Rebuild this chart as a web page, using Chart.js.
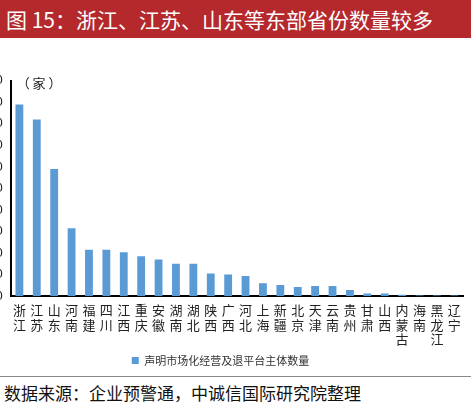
<!DOCTYPE html>
<html><head><meta charset="utf-8">
<script src="https://cdn.jsdelivr.net/npm/chart.js@4/dist/chart.umd.min.js"></script>
<style>
body{margin:0;width:471px;height:415px;overflow:hidden;background:#fff;font-family:"Noto Sans CJK SC",serif;position:relative}
#title{position:absolute;left:0;top:0;width:471px;height:38px;background:#b5282c;color:#fff;font-size:21px;line-height:38px;padding-left:6px;box-sizing:border-box;font-family:"Noto Sans CJK SC"}
#wrap{position:absolute;left:-22px;top:70px;width:493px;height:306px}
#src{position:absolute;left:0;top:376px;width:471px;border-top:1px solid #888;font-size:17px;padding-top:3px;padding-left:4px;color:#111}
</style></head><body>
<div id="title">图 15：浙江、江苏、山东等东部省份数量较多</div>
<div id="wrap"><canvas id="c"></canvas></div>
<div id="src">数据来源：企业预警通，中诚信国际研究院整理</div>
<script>
var provinces = ["浙江","江苏","山东","河南","福建","四川","江西","重庆","安徽","湖南","湖北","陕西","广西","河北","上海","新疆","北京","天津","云南","贵州","甘肃","山西","内蒙古","海南","黑龙江","辽宁"];
var counts = [89,82,59,31.5,21.5,21.5,20.4,18.5,17,15,15,10.5,10,9.3,6,5.2,4.3,4.7,4.7,2.8,1.2,1.2,0.6,0.3,0.3,0.3];
var seriesName = "声明市场化经营及退平台主体数量";

new Chart(document.getElementById('c'), {
  type: 'bar',
  data: {
    labels: provinces.map(function(p){ return p.split(''); }),
    datasets: [{ label: seriesName, data: counts, backgroundColor: '#5b9bd5', barPercentage: 0.45, categoryPercentage: 1 }]
  },
  options: {
    responsive: true, maintainAspectRatio: false, animation: false,
    layout: { padding: { right: 8, top: 8 } },
    plugins: {
      legend: { position: 'bottom', labels: { boxWidth: 7, boxHeight: 7, font: { size: 11, family: 'Noto Sans CJK SC' }, color: '#333', padding: 6 } }
    },
    scales: {
      x: { grid: { display: false, drawTicks: true, tickLength: 4, tickColor: '#000' }, border: { color: '#000', width: 2 },
           ticks: { color: '#222', font: { size: 13, family: 'Noto Sans CJK SC', lineHeight: 1.15 }, maxRotation: 0, autoSkip: false, padding: 2 } },
      y: { min: 0, max: 100, grid: { display: false, tickLength: 5, tickColor: '#000' }, border: { color: '#000', width: 2 },
           ticks: { stepSize: 10, color: '#222', font: { size: 13 }, callback: function(v){ return v; } } }
    }
  },
  plugins: [{ id: 'unit', afterDraw: function(ch){ var c = ch.ctx; c.save(); c.font = '13px "Noto Sans CJK SC"'; c.fillStyle = '#222'; c.fillText('（ 家 ）', ch.scales.y.right + 6, ch.scales.y.top + 2); c.restore(); } }]
});
</script>
</body></html>
